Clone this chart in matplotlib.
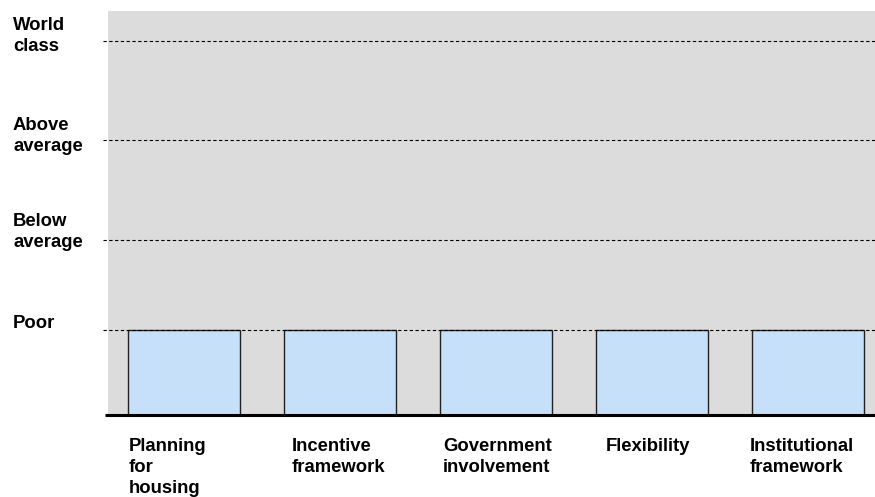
import matplotlib
matplotlib.use("Agg")
import matplotlib.pyplot as plt

# ---- data ----
categories = ["Planning\nfor\nhousing", "Incentive\nframework", "Government\ninvolvement",
              "Flexibility", "Institutional\nframework"]
scores = [1, 1, 1, 1, 1]  # 1 = Poor
level_labels = ["Poor", "Below\naverage", "Above\naverage", "World\nclass"]
level_positions = [1.0, 2.06, 3.24, 4.4]

# ---- style ----
plt.rcParams['font.family'] = ['Liberation Sans', 'DejaVu Sans']
FS = 13.3
LS = 1.33
label_offsets_pt = [10.8, 19.4, 16.6, 17.3]
cat_offsets = [-0.353, -0.31, -0.34, -0.295, -0.375]

fig = plt.figure(figsize=(8.75, 4.97), dpi=100)
ax = fig.add_axes([108/875, 1-415/497, 1-108/875, (415-11)/497])
ax.set_facecolor("#dcdcdc")

heights = [level_positions[s-1] for s in scores]
x = list(range(len(categories)))
ax.bar(x, heights, width=0.72, color="#c6e0fa", edgecolor="#222222", linewidth=1.0, zorder=3)

ax.set_xlim(-0.487, 4.43)
ax.set_ylim(0, 4.753)

# dashed reference lines
for lv in level_positions:
    ax.plot([-0.007, 1.0], [lv, lv], transform=ax.get_yaxis_transform(),
            color="black", linestyle=(0, (3, 2.2)), linewidth=0.8, clip_on=False, zorder=4)

# level labels
for lab, lv, off in zip(level_labels, level_positions, label_offsets_pt):
    ax.annotate(lab, xy=(13, lv), xycoords=("figure pixels", "data"),
                xytext=(0, off), textcoords="offset points", linespacing=LS,
                ha="left", va="top", fontsize=FS, fontweight="bold", annotation_clip=False)

# category labels
for xi, cat, dx in zip(x, categories, cat_offsets):
    ax.annotate(cat, xy=(xi + dx, 0), xycoords=("data", "axes fraction"),
                xytext=(0, -16.5), textcoords="offset points", linespacing=LS,
                ha="left", va="top", fontsize=FS, fontweight="bold", annotation_clip=False)

ax.set_xticks([])
ax.set_yticks([])
for s in ["top", "right", "left"]:
    ax.spines[s].set_visible(False)
ax.spines["bottom"].set_linewidth(2.2)
ax.spines["bottom"].set_color("black")
ax.spines["bottom"].set_zorder(5)
ax.plot([-0.004, 0], [0, 0], transform=ax.transAxes, color="black", linewidth=2.2,
        clip_on=False, zorder=5, solid_capstyle="butt")

fig.savefig("out.png", dpi=100)
